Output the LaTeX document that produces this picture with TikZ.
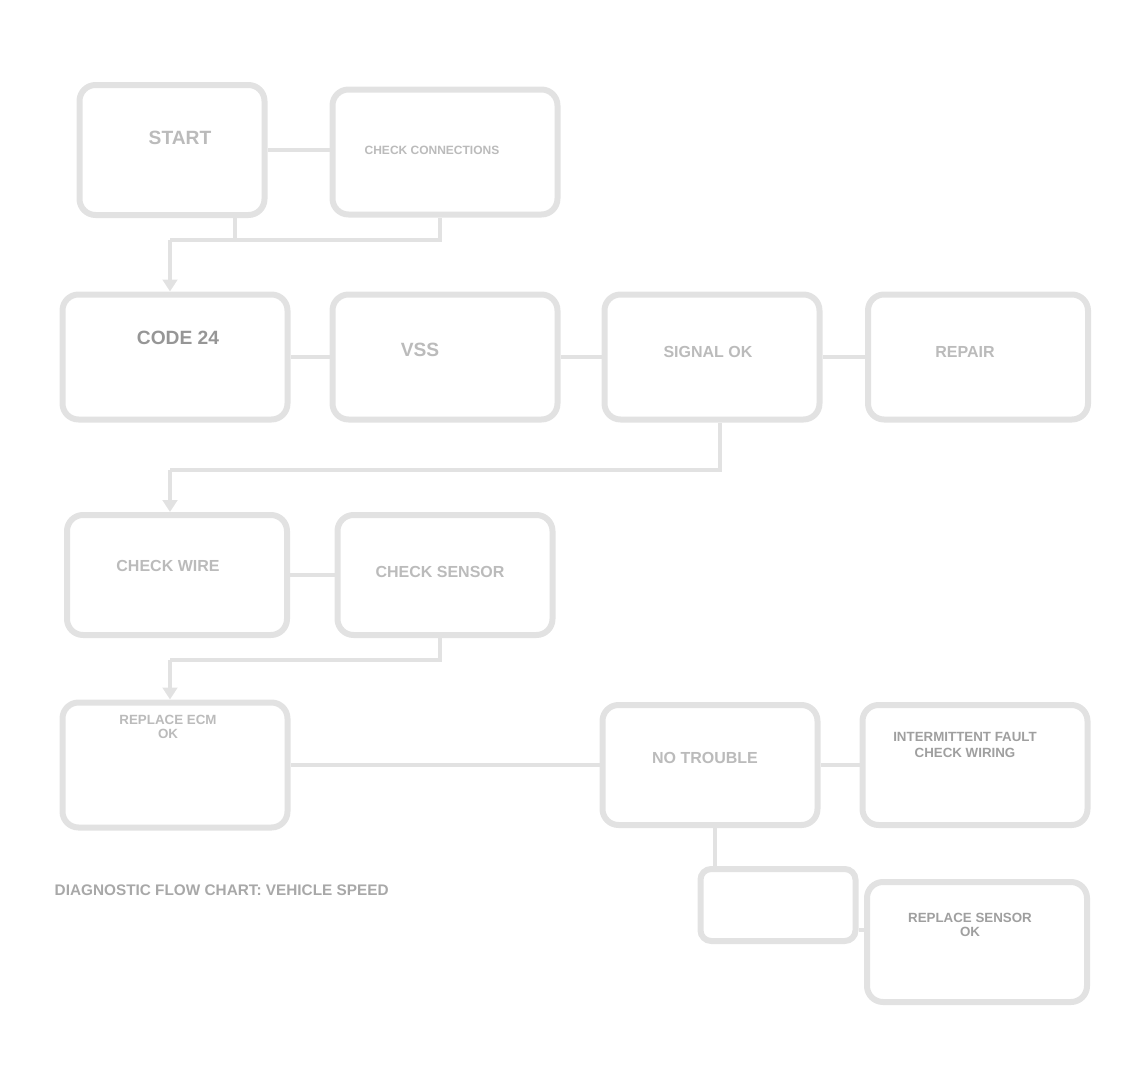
\documentclass[tikz,border=0pt]{standalone}
\usepackage{fontspec}
\setmainfont{Liberation Sans}
\usetikzlibrary{arrows.meta}
\definecolor{edgegray}{HTML}{E2E2E2}
\definecolor{txtgray}{HTML}{BBBBBB}
\begin{document}
\begin{tikzpicture}[x=0.75pt,y=-0.75pt,
  flowbox/.style={draw=edgegray,line width=4.5pt,rounded corners=12pt,fill=white,
     inner sep=0pt},
  sz/.style 2 args={minimum width=#1*0.75pt,minimum height=#2*0.75pt},
  lbl/.style={text=txtgray,font=\bfseries,align=center},
  conn/.style={draw=edgegray,line width=3.5pt},
  arr/.style={conn,-{Triangle[length=9pt,width=11pt]}}]
\useasboundingbox (0,0) rectangle (1132,1078);
% row 1
\node[flowbox,sz={185}{130}] (a1) at (172,150) {};
\node[lbl,font=\bfseries\Large] (a1t) at (180,138) {START};
\node[flowbox,sz={225}{125}] (b1) at (445,152) {};
\node[lbl,font=\bfseries\small] (b1t) at (432,150) {CHECK CONNECTIONS};
% row 2
\node[flowbox,sz={225}{125}] (r2a) at (175,357) {};
\node[lbl,text=txtgray!80!black,font=\bfseries\Large] (r2at) at (178,338) {CODE 24};
\node[flowbox,sz={225}{125}] (r2b) at (445,357) {};
\node[lbl,font=\bfseries\Large] (r2bt) at (420,350) {VSS};
\node[flowbox,sz={215}{125}] (r2c) at (712,357) {};
\node[lbl,font=\bfseries\large] (r2ct) at (708,352) {SIGNAL OK};
\node[flowbox,sz={220}{125}] (r2d) at (978,357) {};
\node[lbl,font=\bfseries\large] (r2dt) at (965,352) {REPAIR};
% row 3
\node[flowbox,sz={220}{120}] (r3a) at (177,575) {};
\node[lbl,font=\bfseries\large] (r3at) at (168,566) {CHECK WIRE};
\node[flowbox,sz={215}{120}] (r3b) at (445,575) {};
\node[lbl,font=\bfseries\large] (r3bt) at (440,572) {CHECK SENSOR};
% row 4
\node[flowbox,sz={225}{125}] (r4a) at (175,765) {};
\node[lbl,font=\bfseries] (r4at) at (168,727) {REPLACE ECM\\[-2pt]OK};
\node[flowbox,sz={215}{120}] (r4b) at (710,765) {};
\node[lbl,font=\bfseries\large] (r4bt) at (705,758) {NO TROUBLE};
\node[flowbox,sz={225}{120}] (r4c) at (975,765) {};
\node[lbl,text=txtgray!85!black,font=\bfseries] (r4ct) at (965,745) {INTERMITTENT FAULT\\CHECK WIRING};
% row 5
\node[flowbox,sz={155}{72},rounded corners=8pt] (r5a) at (778,905) {};
\node[flowbox,sz={220}{120}] (r5b) at (977,942) {};
\node[lbl,text=txtgray!85!black,font=\bfseries] (r5bt) at (970,925) {REPLACE SENSOR\\[-2pt]OK};
% caption
\node[lbl,text=txtgray!90!black,font=\bfseries\fontsize{11.5}{13}\selectfont,anchor=west] (cap) at (50,890) {DIAGNOSTIC FLOW CHART: VEHICLE SPEED};
% connectors
\draw[conn] (a1.east) -- (a1.east -| b1.west);
\coordinate (m1) at (170,240);
\draw[conn] (a1.south -| 235,0) |- (m1);
\draw[conn] (b1.south -| 440,0) |- (m1);
\draw[arr] (m1) -- (r2a.north -| m1);
\draw[conn] (r2a.east) -- (r2b.west);
\draw[conn] (r2b.east) -- (r2c.west);
\draw[conn] (r2c.east) -- (r2d.west);
\coordinate (m2) at (170,470);
\draw[conn] (r2c.south -| 720,0) |- (m2);
\draw[arr] (m2) -- (r3a.north -| m2);
\draw[conn] (r3a.east) -- (r3b.west);
\coordinate (m3) at (170,660);
\draw[conn] (r3b.south -| 440,0) |- (m3);
\draw[arr] (m3) -- (r4a.north -| m3);
\draw[conn] (r4a.east) -- (r4b.west);
\draw[conn] (r4b.east) -- (r4c.west);
\draw[conn] (r4b.south -| 715,0) -- (r5a.north -| 715,0);
\draw[conn] (r5a.south east) ++(0,-14) coordinate (r5out) -- (r5out -| r5b.west);
\end{tikzpicture}
\end{document}
